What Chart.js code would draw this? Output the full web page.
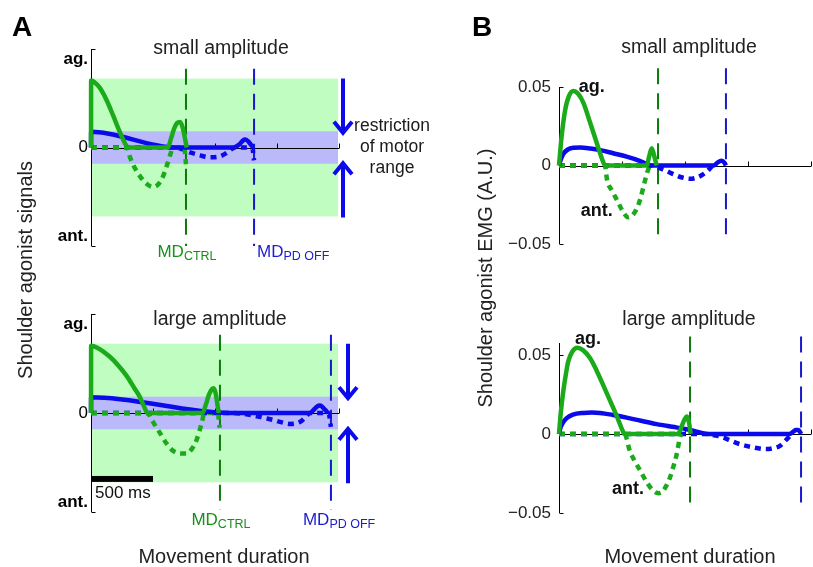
<!DOCTYPE html>
<html>
<head>
<meta charset="utf-8">
<script src="https://cdn.jsdelivr.net/npm/chart.js@4.4.1/dist/chart.umd.min.js"></script>
<style>
  body { margin: 0; background: #fff; }
  #wrap { position: relative; width: 813px; height: 567px; }
  canvas { position: absolute; left: 0; top: 0; }
</style>
</head>
<body>
<div id="wrap">
  <canvas id="aSmall" width="813" height="567"></canvas>
  <canvas id="aLarge" width="813" height="567"></canvas>
  <canvas id="bSmall" width="813" height="567"></canvas>
  <canvas id="bLarge" width="813" height="567"></canvas>
</div>
<script>
var FONT = "'Liberation Sans', Arial, Helvetica, sans-serif";
var GREEN = '#1aaa1a', BLUE = '#0a0aea';
var DKGREEN = '#0b7a0b', DKBLUE = '#1818cc';

// [time (ms), signal] - solid = positive part, dotted = negative part
// Panel A, small amplitude (normalized signals)
var aSmallCtrlPos = [[0,0],[1,0.68],[30,0.66],[75,0.6],[130,0.47],[180,0.32],[235,0.15],[290,0.01],[310,0],[620,0],[645,0.09],[670,0.19],[695,0.25],[718,0.26],[740,0.2],[758,0.09],[772,0]];
var aSmallCtrlNeg = [[0,0],[290,0],[315,-0.1],[350,-0.2],[400,-0.3],[450,-0.37],[500,-0.4],[545,-0.37],[585,-0.28],[615,-0.17],[640,-0.07],[660,0],[752,0],[766,-0.17]];
var aSmallPdPos = [[0,0],[1,0.16],[680,0],[1150,0],[1195,0.03],[1225,0.07],[1245,0.08],[1270,0.06],[1295,0.02],[1310,0]];
var aSmallPdNeg = [[0,0],[680,0],[740,-0.02],[800,-0.05],[880,-0.08],[960,-0.1],[1040,-0.09],[1100,-0.05],[1140,-0.01],[1160,0],[1300,0],[1315,-0.13]];

// Panel A, large amplitude
var aLargeCtrlPos = [[0,0],[1,0.68],[50,0.66],[150,0.57],[220,0.48],[290,0.37],[350,0.25],[395,0.16],[430,0.06],[455,0],[900,0],[925,0.08],[950,0.18],[975,0.24],[990,0.25],[1005,0.2],[1018,0.1],[1030,0]];
var aLargeCtrlNeg = [[0,0],[455,0],[490,-0.07],[530,-0.15],[570,-0.23],[610,-0.31],[660,-0.38],[720,-0.41],[770,-0.41],[815,-0.36],[852,-0.27],[893,-0.1],[915,0],[1022,0],[1038,-0.15]];
var aLargePdPos = [[0,0],[1,0.16],[1120,0],[1765,0],[1795,0.03],[1822,0.065],[1847,0.075],[1875,0.05],[1900,0.015],[1912,0]];
var aLargePdNeg = [[0,0],[1120,0],[1200,-0.005],[1310,-0.025],[1400,-0.05],[1470,-0.07],[1540,-0.095],[1605,-0.11],[1685,-0.09],[1740,-0.03],[1765,0],[1915,0],[1935,-0.14]];

// Panel B, small amplitude (EMG, A.U.)
var bSmallCtrlPos = [[0,0],[21,0.0186],[48,0.035],[80,0.0445],[114,0.0475],[150,0.0458],[193,0.04],[246,0.0275],[299,0.0145],[352,0.002],[365,0],[696,0],[716,0.006],[736,0.011],[756,0.006],[775,0]];
var bSmallCtrlNeg = [[0,0],[365,0],[381,-0.009],[420,-0.016],[460,-0.022],[505,-0.029],[548,-0.033],[600,-0.03],[643,-0.022],[675,-0.012],[698,-0.005],[720,0]];
var bSmallPdPos = [[0,0],[15,0.004],[35,0.0075],[70,0.0102],[114,0.0113],[170,0.0115],[250,0.0108],[325,0.0098],[430,0.0078],[537,0.0057],[640,0.003],[700,0.0008],[730,0],[1230,0],[1260,0.002],[1290,0.003],[1315,0.0015],[1325,0]];
var bSmallPdNeg = [[0,0],[730,0],[775,-0.001],[840,-0.003],[907,-0.0055],[970,-0.0075],[1040,-0.0085],[1100,-0.0075],[1146,-0.0055],[1185,-0.003],[1215,-0.0005],[1230,0]];

// Panel B, large amplitude
var bLargeCtrlPos = [[0,0],[15,0.014],[34,0.027],[55,0.038],[74,0.046],[105,0.052],[146,0.0545],[190,0.053],[246,0.048],[299,0.04],[350,0.031],[405,0.021],[460,0.011],[511,0.001],[520,0],[944,0],[970,0.004],[995,0.009],[1016,0.011],[1032,0.007],[1045,0]];
var bLargeCtrlNeg = [[0,0],[520,0],[563,-0.011],[600,-0.017],[643,-0.023],[700,-0.031],[749,-0.036],[790,-0.0375],[815,-0.037],[850,-0.033],[881,-0.0275],[910,-0.02],[934,-0.0128],[960,-0.0023],[970,0]];
var bLargePdPos = [[0,0],[12,0.004],[30,0.007],[61,0.01],[110,0.0122],[193,0.0133],[260,0.0135],[325,0.0133],[430,0.012],[537,0.0103],[650,0.0083],[775,0.0062],[900,0.0045],[1013,0.003],[1100,0.0013],[1172,0],[1830,0],[1860,0.0015],[1880,0.0025],[1900,0.0025],[1915,0.001],[1921,0]];
var bLargePdNeg = [[0,0],[1172,0],[1240,-0.001],[1304,-0.0023],[1370,-0.0045],[1437,-0.0065],[1540,-0.0085],[1648,-0.0096],[1700,-0.009],[1754,-0.0075],[1800,-0.004],[1833,-0.0013],[1850,0]];

// movement durations (ms): A small, A large, B small, B large
var mdCtrl = [766, 1040, 786, 1040];
var mdPdOff = [1315, 1935, 1325, 1921];
var xTickVals = [500, 1000, 1500, 2000];
var scaleBarMs = 500;

function xy(arr) {
  return arr.map(function (p) { return { x: p[0], y: p[1] }; });
}

function curve(data, color, dashed, order) {
  return {
    data: xy(data), borderColor: color, borderWidth: 4.5,
    borderDash: dashed ? [6, 5] : [], pointRadius: 0,
    cubicInterpolationMode: 'monotone', fill: false, clip: false, order: order
  };
}

function mdLine(t, yTop, yBot, color) {
  return {
    data: [{ x: t, y: yTop }, { x: t, y: yBot }], borderColor: color, borderWidth: 2,
    borderDash: [16, 9], pointRadius: 0, tension: 0, fill: false, clip: false, order: 10
  };
}

function txt(ctx, s, x, y, font, color, align, base) {
  ctx.font = font;
  ctx.fillStyle = color;
  ctx.textAlign = align || 'left';
  ctx.textBaseline = base || 'alphabetic';
  ctx.fillText(s, x, y);
}

function subLabel(ctx, main, sub, x, y, color, center) {
  ctx.font = '17px ' + FONT;
  var w1 = ctx.measureText(main).width;
  ctx.font = '12.5px ' + FONT;
  var w2 = ctx.measureText(sub).width;
  var x0 = center ? x - (w1 + w2) / 2 : x;
  txt(ctx, main, x0, y, '17px ' + FONT, color);
  txt(ctx, sub, x0 + w1, y + 3, '12.5px ' + FONT, color);
}

function arrow(ctx, x, yFrom, yTo) {
  var d = yTo > yFrom ? 1 : -1;
  ctx.beginPath();
  ctx.moveTo(x, yFrom);
  ctx.lineTo(x, yTo - d);
  ctx.moveTo(x - 9, yTo - d * 11);
  ctx.lineTo(x, yTo);
  ctx.lineTo(x + 9, yTo - d * 11);
  ctx.stroke();
}

function makePanel(id, cfg) {
  var decor = {
    id: 'decor_' + id,
    beforeDatasetsDraw: function (chart) {
      var ctx = chart.ctx, sx = chart.scales.x, sy = chart.scales.y;
      ctx.save();
      if (cfg.bands) {
        var xl = sx.getPixelForValue(0), xr = sx.getPixelForValue(2000) - 1;
        ctx.fillStyle = '#c0fdc0';
        ctx.fillRect(xl, sy.getPixelForValue(0.7), xr - xl, sy.getPixelForValue(-0.7) - sy.getPixelForValue(0.7));
        ctx.fillStyle = '#babafb';
        ctx.fillRect(xl, sy.getPixelForValue(0.165), xr - xl, sy.getPixelForValue(-0.165) - sy.getPixelForValue(0.165));
      }
      // axes, MATLAB style ticks pointing inward
      var x0 = Math.round(sx.getPixelForValue(0)) + 0.5;
      var y0 = Math.round(sy.getPixelForValue(0)) + 0.5;
      ctx.strokeStyle = '#000';
      ctx.lineWidth = 1;
      ctx.beginPath();
      ctx.moveTo(x0, sy.getPixelForValue(cfg.axisTop));
      ctx.lineTo(x0, sy.getPixelForValue(cfg.axisBot));
      cfg.tickMarks.forEach(function (v) {
        var y = Math.round(sy.getPixelForValue(v)) + 0.5;
        ctx.moveTo(x0, y); ctx.lineTo(x0 + 4, y);
      });
      ctx.moveTo(x0, y0);
      ctx.lineTo(sx.getPixelForValue(2000), y0);
      xTickVals.forEach(function (t) {
        var x = Math.round(sx.getPixelForValue(t)) + 0.5;
        ctx.moveTo(x, y0); ctx.lineTo(x, y0 - 5);
      });
      ctx.stroke();
      ctx.restore();
    },
    afterDraw: function (chart) {
      var ctx = chart.ctx, sx = chart.scales.x, sy = chart.scales.y, a = chart.chartArea;
      ctx.save();
      txt(ctx, cfg.title, cfg.titleX, cfg.titleY, '19.5px ' + FONT, '#222', 'center');
      var xc = sx.getPixelForValue(cfg.mdC), xp = sx.getPixelForValue(cfg.mdP);
      if (cfg.mdY > 0) {
        subLabel(ctx, 'MD', 'CTRL', xc + 1, cfg.mdY, '#1a8f1a', true);
        subLabel(ctx, 'MD', 'PD OFF', xp + cfg.pdDx, cfg.mdY, '#1c1cd0', false);
      }
      if (cfg.arrowDx) {
        ctx.strokeStyle = BLUE;
        ctx.lineWidth = 4;
        ctx.lineJoin = 'miter';
        var ax = a.right + cfg.arrowDx;
        arrow(ctx, ax, sy.getPixelForValue(0.7), sy.getPixelForValue(0.15));
        arrow(ctx, ax, sy.getPixelForValue(-0.71), sy.getPixelForValue(-0.16));
      }
      if (cfg.scaleBar) {
        var bx = sx.getPixelForValue(0), bw = sx.getPixelForValue(scaleBarMs) - bx;
        var by = sy.getPixelForValue(-0.636);
        ctx.fillStyle = '#000';
        ctx.fillRect(bx, by, bw, sy.getPixelForValue(-0.696) - by);
        txt(ctx, '500 ms', bx + 4, by + 22, '17px ' + FONT, '#111');
      }
      if (cfg.agAnt) {
        txt(ctx, 'ag.', sx.getPixelForValue(cfg.agAnt[0]), sy.getPixelForValue(cfg.agAnt[1]), 'bold 18px ' + FONT, '#111', 'center', 'middle');
        txt(ctx, 'ant.', sx.getPixelForValue(cfg.agAnt[2]), sy.getPixelForValue(cfg.agAnt[3]), 'bold 18px ' + FONT, '#111', 'center', 'middle');
      }
      if (cfg.figureText) cfg.figureText(ctx);
      ctx.restore();
    }
  };

  return new Chart(document.getElementById(id), {
    type: 'line',
    data: {
      datasets: [
        curve(cfg.ctrlPos, GREEN, false, 1),
        curve(cfg.pdPos, BLUE, false, 2),
        curve(cfg.ctrlNeg, GREEN, true, 3),
        curve(cfg.pdNeg, BLUE, true, 4),
        mdLine(cfg.mdC, cfg.mdTop, cfg.mdBot, DKGREEN),
        mdLine(cfg.mdP, cfg.mdTop, cfg.mdBot, DKBLUE)
      ]
    },
    options: {
      responsive: false,
      animation: false,
      events: [],
      layout: { padding: cfg.pad },
      plugins: { legend: { display: false }, tooltip: { enabled: false } },
      scales: {
        x: { type: 'linear', min: 0, max: 2000, display: false },
        y: {
          type: 'linear', min: cfg.yMin, max: cfg.yMax,
          grid: { display: false, drawTicks: false }, border: { display: false },
          afterBuildTicks: function (s) { s.ticks = cfg.yTicks.map(function (v) { return { value: v }; }); },
          afterFit: function (s) { s.width = 60; },
          ticks: {
            autoSkip: false, padding: cfg.tickPad, color: cfg.tickColor,
            font: function (c) { return cfg.tickFont(c.tick ? c.tick.value : 0); },
            callback: function (v) { return cfg.tickLabel(v); }
          }
        }
      }
    },
    plugins: [decor]
  });
}

function aTickLabel(v) { return v > 0.5 ? 'ag.' : (v < -0.5 ? 'ant.' : '0'); }
function aTickFont(v) { return v === 0 ? { family: FONT, size: 17 } : { family: FONT, size: 17, weight: 'bold' }; }
function bTickLabel(v) { return v === 0 ? '0' : (v > 0 ? '0.05' : '\u22120.05'); }
function bTickFont() { return { family: FONT, size: 17 }; }

function figureText(ctx) {
  txt(ctx, 'A', 12, 36, 'bold 28px ' + FONT, '#000');
  txt(ctx, 'B', 472, 36, 'bold 28px ' + FONT, '#000');
  ctx.save();
  ctx.translate(26, 270);
  ctx.rotate(-Math.PI / 2);
  txt(ctx, 'Shoulder agonist signals', 0, 0, '20px ' + FONT, '#222', 'center', 'middle');
  ctx.restore();
  ctx.save();
  ctx.translate(486, 278);
  ctx.rotate(-Math.PI / 2);
  txt(ctx, 'Shoulder agonist EMG (A.U.)', 0, 0, '20px ' + FONT, '#222', 'center', 'middle');
  ctx.restore();
  txt(ctx, 'Movement duration', 224, 563, '20px ' + FONT, '#222', 'center');
  txt(ctx, 'Movement duration', 690, 563, '20px ' + FONT, '#222', 'center');
  txt(ctx, 'restriction', 392, 126, '17.5px ' + FONT, '#1a1a1a', 'center', 'middle');
  txt(ctx, 'of motor', 392, 147, '17.5px ' + FONT, '#1a1a1a', 'center', 'middle');
  txt(ctx, 'range', 392, 168, '17.5px ' + FONT, '#1a1a1a', 'center', 'middle');
}

makePanel('aSmall', {
  ctrlPos: aSmallCtrlPos, ctrlNeg: aSmallCtrlNeg, pdPos: aSmallPdPos, pdNeg: aSmallPdNeg,
  mdC: mdCtrl[0], mdP: mdPdOff[0], mdTop: 0.8, mdBot: -1.0, mdY: 257, pdDx: 3,
  pad: { left: 31, right: 474, top: 49, bottom: 321 }, yMin: -1, yMax: 1,
  yTicks: [-0.9, 0, 0.9], tickMarks: [-1, 1], axisTop: 1, axisBot: -1,
  tickPad: 3, tickColor: '#000', tickLabel: aTickLabel, tickFont: aTickFont,
  bands: true, arrowDx: 4, title: 'small amplitude', titleX: 221, titleY: 54,
  figureText: figureText
});

makePanel('aLarge', {
  ctrlPos: aLargeCtrlPos, ctrlNeg: aLargeCtrlNeg, pdPos: aLargePdPos, pdNeg: aLargePdNeg,
  mdC: mdCtrl[1], mdP: mdPdOff[1], mdTop: 0.79, mdBot: -0.98, mdY: 525, pdDx: -28,
  pad: { left: 31, right: 474, top: 314, bottom: 55 }, yMin: -1, yMax: 1,
  yTicks: [-0.9, 0, 0.9], tickMarks: [-1, 1], axisTop: 1, axisBot: -1,
  tickPad: 3, tickColor: '#000', tickLabel: aTickLabel, tickFont: aTickFont,
  bands: true, arrowDx: 9, scaleBar: true, title: 'large amplitude', titleX: 220, titleY: 325
});

makePanel('bSmall', {
  ctrlPos: bSmallCtrlPos, ctrlNeg: bSmallCtrlNeg, pdPos: bSmallPdPos, pdNeg: bSmallPdNeg,
  mdC: mdCtrl[2], mdP: mdPdOff[2], mdTop: 0.062, mdBot: -0.049, mdY: -100, pdDx: 0,
  pad: { left: 499, right: 2, top: 87, bottom: 323 }, yMin: -0.05, yMax: 0.05,
  yTicks: [-0.05, 0, 0.05], tickMarks: [-0.05, 0.05], axisTop: 0.05, axisBot: -0.05,
  tickPad: 8, tickColor: '#222', tickLabel: bTickLabel, tickFont: bTickFont,
  agAnt: [260, 0.05, 300, -0.029], title: 'small amplitude', titleX: 689, titleY: 53
});

makePanel('bLarge', {
  ctrlPos: bLargeCtrlPos, ctrlNeg: bLargeCtrlNeg, pdPos: bLargePdPos, pdNeg: bLargePdNeg,
  mdC: mdCtrl[3], mdP: mdPdOff[3], mdTop: 0.0616, mdBot: -0.048, mdY: -100, pdDx: 0,
  pad: { left: 499, right: 2, top: 343, bottom: 54 }, yMin: -0.05, yMax: 0.0575,
  yTicks: [-0.05, 0, 0.05], tickMarks: [-0.05, 0.05], axisTop: 0.0575, axisBot: -0.05,
  tickPad: 8, tickColor: '#222', tickLabel: bTickLabel, tickFont: bTickFont,
  agAnt: [230, 0.06, 548, -0.035], title: 'large amplitude', titleX: 689, titleY: 325
});
</script>
</body>
</html>
